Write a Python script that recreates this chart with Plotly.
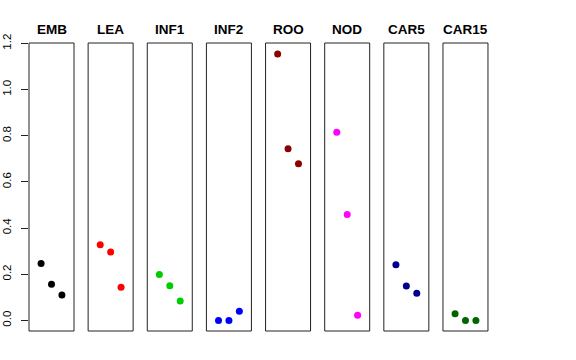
import plotly.graph_objects as go

categories = ["EMB", "LEA", "INF1", "INF2", "ROO", "NOD", "CAR5", "CAR15"]
colors = ["#000000", "#FF0000", "#00CD00", "#0000FF", "#8B0000", "#FF00FF", "#00008B", "#006400"]
x_vals = [1, 2, 3]
values = {
    "EMB":   [0.246, 0.157, 0.110],
    "LEA":   [0.328, 0.296, 0.143],
    "INF1":  [0.199, 0.150, 0.084],
    "INF2":  [0.000, 0.000, 0.040],
    "ROO":   [1.154, 0.744, 0.679],
    "NOD":   [0.815, 0.459, 0.022],
    "CAR5":  [0.241, 0.149, 0.118],
    "CAR15": [0.029, 0.000, 0.000],
}
y_ticks = [0.0, 0.2, 0.4, 0.6, 0.8, 1.0, 1.2]
y_tick_labels = ["0.0", "0.2", "0.4", "0.6", "0.8", "1.0", "1.2"]

W, H = 576, 360
ml, mr, mt, mb = 29, 88, 43, 29
pw = W - ml - mr
step = 59.14
boxw = 45

fig = go.Figure()
layout = dict(
    width=W, height=H,
    margin=dict(l=ml, r=mr, t=mt, b=mb, pad=0, autoexpand=False),
    paper_bgcolor="white", plot_bgcolor="white",
    showlegend=False,
    font=dict(family="Liberation Sans, Arial, Helvetica, sans-serif", color="black"),
)
shapes = []
annotations = []
for i, (cat, col) in enumerate(zip(categories, colors)):
    k = i + 1
    xname = "x" if k == 1 else f"x{k}"
    xkey = "xaxis" if k == 1 else f"xaxis{k}"
    left = (step * i) / pw
    right = (step * i + boxw) / pw
    layout[xkey] = dict(
        domain=[left, min(right, 1)], range=[-0.16, 4.16],
        showgrid=False, zeroline=False, showticklabels=False, ticks="",
        showline=False, anchor="y", fixedrange=True, automargin=False,
    )
    fig.add_trace(go.Scatter(
        x=x_vals, y=values[cat], mode="markers", xaxis=xname, yaxis="y",
        marker=dict(color=col, size=7, line=dict(width=0)),
    ))
    shapes.append(dict(
        type="rect", xref=f"{xname} domain", yref="y domain",
        x0=0, x1=1, y0=0, y1=1, line=dict(color="#222222", width=1),
        fillcolor="rgba(0,0,0,0)", layer="above",
    ))
    annotations.append(dict(
        text=f"<b>{cat}</b>", xref=f"{xname} domain", yref="paper",
        x=0.5, y=1, yshift=14, xanchor="center", yanchor="middle",
        showarrow=False, font=dict(size=13.5, color="black"),
    ))

layout["yaxis"] = dict(
    domain=[0, 1], range=[-0.046, 1.2016], anchor="x",
    tickvals=y_ticks, ticktext=y_tick_labels, tickangle=-90,
    ticks="outside", ticklen=7, tickcolor="#222222", tickwidth=1,
    tickfont=dict(size=11.5), showgrid=False, zeroline=False, showline=False,
    ticklabelstandoff=5, fixedrange=True, automargin=False,
)
layout["shapes"] = shapes
layout["annotations"] = annotations
fig.update_layout(**layout)
fig.write_html(
    "out.html",
    config={"displayModeBar": False},
    post_script="document.body.style.margin='0';document.body.style.padding='0';",
)
